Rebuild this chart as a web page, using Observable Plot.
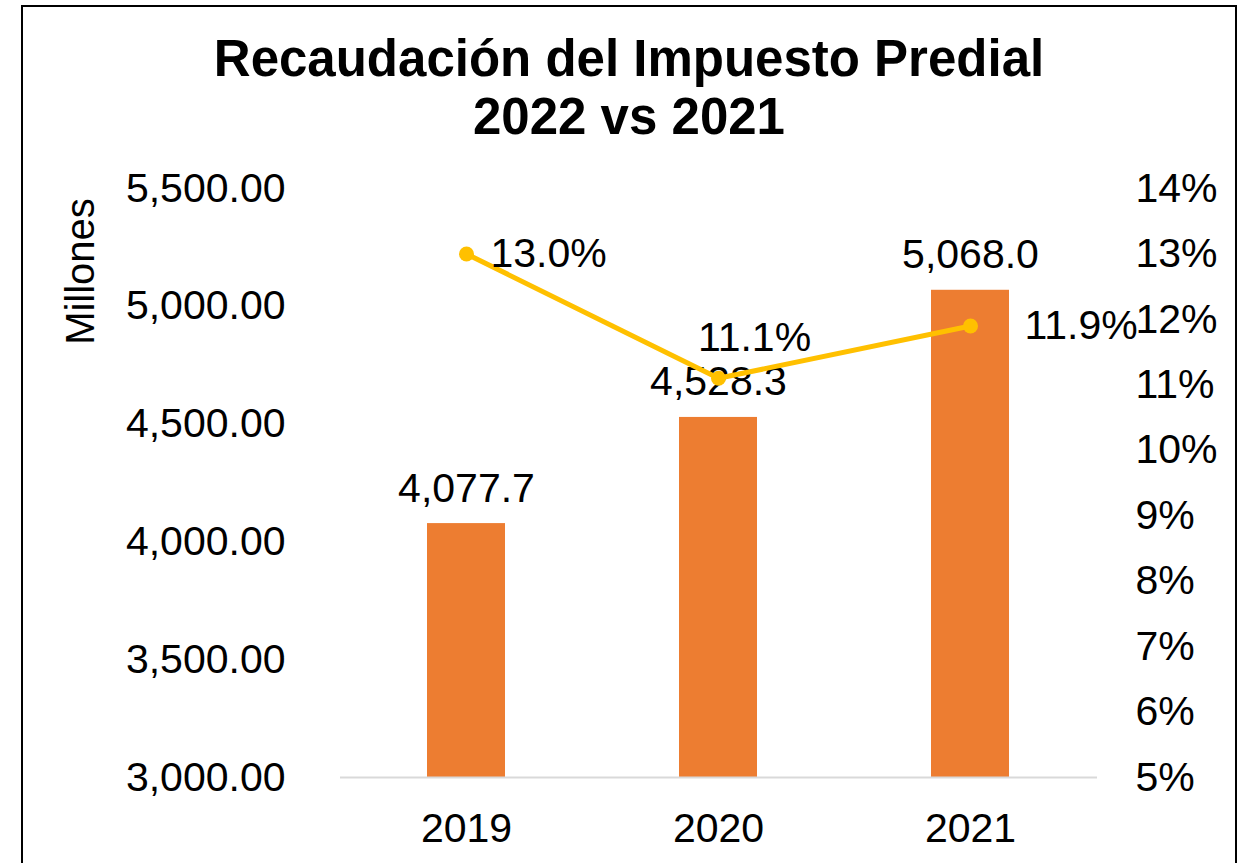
<!DOCTYPE html>
<html>
<head>
<meta charset="utf-8">
<script src="https://cdn.jsdelivr.net/npm/d3@7"></script>
<script src="https://cdn.jsdelivr.net/npm/@observablehq/plot@0.6"></script>
<style>
html, body { margin: 0; padding: 0; background: #fff; overflow: hidden; }
body { font-family: "Liberation Sans", Arial, sans-serif; }
#box { position: absolute; left: 21px; top: 5px; width: 1212px; border: 2px solid #000; background: #fff; }
#title { font-weight: bold; font-size: 51px; line-height: 58px; text-align: center; padding-top: 23px; color: #000; }
</style>
</head>
<body>
<div id="box">
  <div id="title">Recaudación del Impuesto Predial<br>2022 vs 2021</div>
  <div id="chart"></div>
</div>
<script>
// ---- data ----
const years = ["2019", "2020", "2021"];
const recaudacion = [4077.7, 4528.3, 5068.0];      // millones
const crecimiento = [13.0, 11.1, 11.9];            // %
const leftTicks = [3000, 3500, 4000, 4500, 5000, 5500];
const rightTicks = [5, 6, 7, 8, 9, 10, 11, 12, 13, 14];
const yAxisLabel = "Millones";

// ---- derived table ----
const data = years.map((year, i) => ({ year, value: recaudacion[i], pct: crecimiento[i] }));

const yMin = leftTicks[0], yMax = leftTicks[leftTicks.length - 1];
const pMin = rightTicks[0], pMax = rightTicks[rightTicks.length - 1];
const toY = p => yMin + (p - pMin) / (pMax - pMin) * (yMax - yMin);
const fromY = v => pMin + (v - yMin) / (yMax - yMin) * (pMax - pMin);

const fmtLeft = d3.format(",.2f");
const fmtBar = d3.format(",.1f");
const fmtPct = d3.format(".1f");

const orange = "#ED7D31";
const gold = "#FFC000";
const fs = 41;

const pctLabel = (year, opts) => Plot.text(data.filter(d => d.year === year), {
  x: "year", y: d => toY(d.pct), text: d => fmtPct(d.pct) + "%", fill: "#000", fontSize: fs, ...opts
});

const chart = Plot.plot({
  width: 1212,
  height: 740,
  marginLeft: 317,
  marginRight: 138,
  marginTop: 42,
  marginBottom: 109,
  style: { fontFamily: '"Liberation Sans", Arial, sans-serif', fontSize: fs + "px", color: "#000", background: "#fff" },
  x: { domain: years, paddingInner: 0.69, paddingOuter: 0.345, label: null },
  y: { domain: [yMin, yMax], label: null },
  marks: [
    Plot.barY(data, { x: "year", y1: () => yMin, y2: "value", fill: orange }),
    Plot.ruleY([yMin], { stroke: "#d9d9d9", strokeWidth: 2 }),
    Plot.axisY(leftTicks, { anchor: "left", tickSize: 0, tickPadding: 55, tickFormat: fmtLeft, label: null, fontSize: fs }),
    Plot.axisY(rightTicks.map(toY), { anchor: "right", tickSize: 0, tickPadding: 38, tickFormat: v => Math.round(fromY(v)) + "%", label: null, fontSize: fs }),
    Plot.axisX({ tickSize: 0, tickPadding: 35, label: null, fontSize: fs }),
    Plot.text(data, { x: "year", y: "value", text: d => fmtBar(d.value), dy: -22, lineAnchor: "bottom", fontSize: fs, fill: "#000" }),
    Plot.line(data, { x: "year", y: d => toY(d.pct), stroke: gold, strokeWidth: 5 }),
    Plot.dot(data, { x: "year", y: d => toY(d.pct), r: 7.5, fill: gold, stroke: "none" }),
    pctLabel("2019", { textAnchor: "start", lineAnchor: "middle", dx: 24 }),
    pctLabel("2020", { textAnchor: "middle", lineAnchor: "bottom", dx: 36, dy: -27 }),
    pctLabel("2021", { textAnchor: "start", lineAnchor: "middle", dx: 54 }),
    Plot.text([yAxisLabel], { frameAnchor: "top-left", rotate: -90, dx: -259, dy: 83, fontSize: 40, fill: "#000", textAnchor: "middle", lineAnchor: "middle" })
  ]
});
document.getElementById("chart").appendChild(chart);
</script>
</body>
</html>
